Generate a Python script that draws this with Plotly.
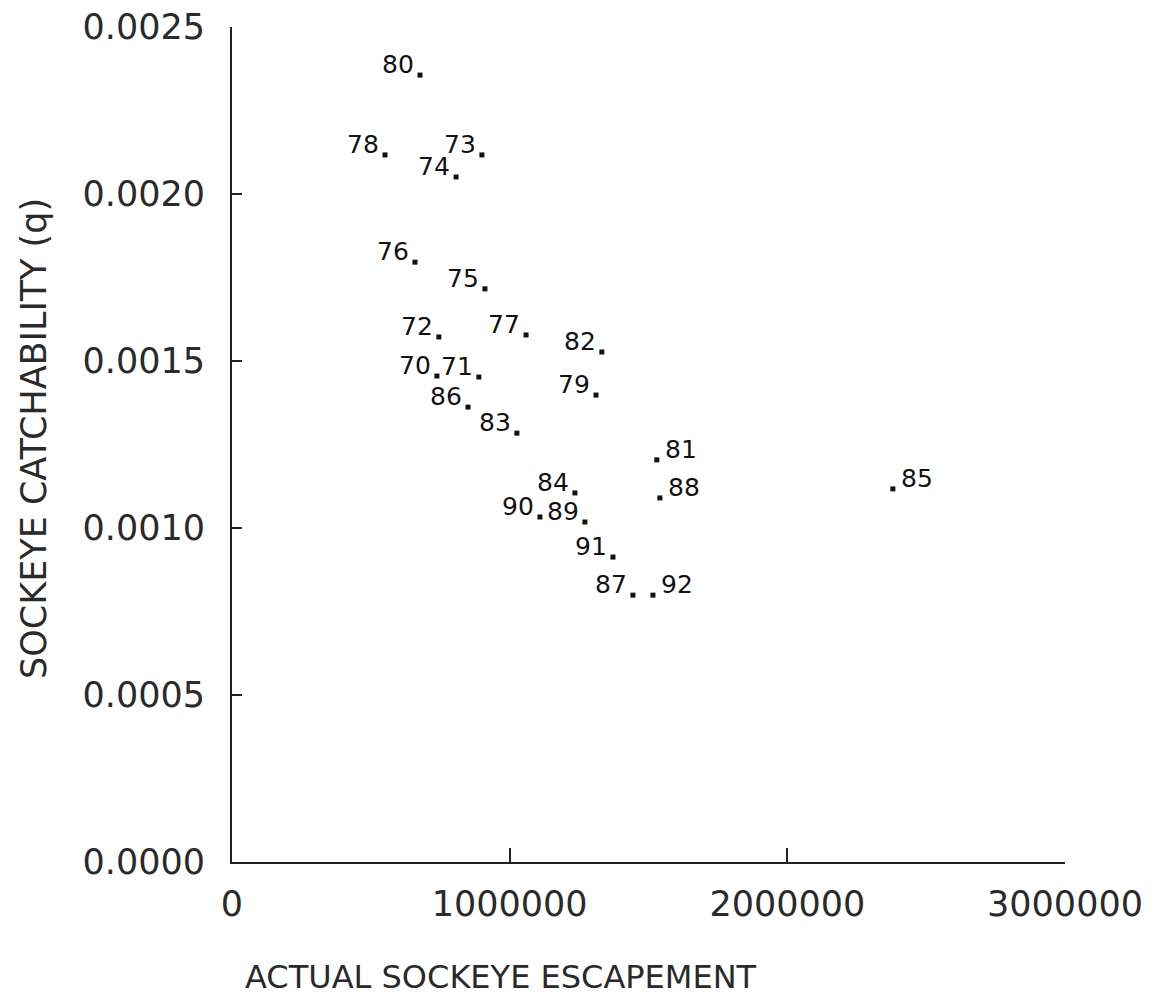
import plotly.graph_objects as go

years = ["80", "78", "73", "74", "76", "75", "72", "77", "82", "70", "71", "79",
         "86", "83", "81", "84", "88", "89", "90", "91", "87", "92", "85"]
escapement = [677000, 551000, 900000, 807000, 659000, 911000, 745000, 1059000,
              1332000, 738000, 889000, 1311000, 850000, 1026000, 1530000, 1235000,
              1541000, 1271000, 1109000, 1372000, 1444000, 1516000, 2380000]
catchability = [0.002356, 0.002117, 0.002117, 0.002051, 0.001796, 0.001716,
                0.001572, 0.001578, 0.001527, 0.001455, 0.001452, 0.001398,
                0.001362, 0.001284, 0.001204, 0.001105, 0.001090, 0.001018,
                0.001033, 0.000913, 0.000799, 0.000799, 0.001117]
label_side = ["left", "left", "left", "left", "left", "left", "left", "left",
              "left", "left", "left", "left", "left", "left", "right", "left",
              "right", "left", "left", "left", "left", "right", "right"]

x_ticks = [0, 1000000, 2000000, 3000000]
x_tick_text = ["0", "1000000", "2000000", "3000000"]
y_ticks = [0.0, 0.0005, 0.0010, 0.0015, 0.0020, 0.0025]
y_tick_text = ["0.0000", "0.0005", "0.0010", "0.0015", "0.0020", "0.0025"]

x_title = "ACTUAL SOCKEYE ESCAPEMENT"
y_title = "SOCKEYE CATCHABILITY (q)"

FONT = "DejaVu Sans"
INK = "#2a2a2a"

# plot area in screen pixels (page has an 8px body margin)
PL, PT, PW, PH = 232, 27, 833, 835

annotations = []
for yr, xv, yv, side in zip(years, escapement, catchability, label_side):
    annotations.append(dict(
        x=xv, y=yv, text=yr, showarrow=False,
        xanchor="right" if side == "left" else "left",
        yanchor="bottom",
        xshift=-4 if side == "left" else 6,
        yshift=-6,
        font=dict(family=FONT, size=25, color="#111"),
    ))

annotations.append(dict(
    x=(501 - PL) / PW, y=-(977 - (PT + PH)) / PH, xref="paper", yref="paper",
    text=x_title, showarrow=False, xanchor="center", yanchor="middle",
    font=dict(family=FONT, size=32, color=INK),
))
annotations.append(dict(
    x=-(PL - 34) / PW, y=((PT + PH) - 439) / PH, xref="paper", yref="paper",
    text=y_title, showarrow=False, textangle=-90,
    xanchor="center", yanchor="middle",
    font=dict(family=FONT, size=35, color=INK),
))

fig = go.Figure()
fig.add_trace(go.Scatter(
    x=escapement, y=catchability, mode="markers",
    marker=dict(size=5, color="#111", symbol="square"),
    hoverinfo="skip", showlegend=False, cliponaxis=False,
))

fig.update_layout(
    width=1172, height=1001,
    margin=dict(l=PL - 8, r=1172 - (PL - 8) - PW, t=PT - 8, b=1001 - (PT - 8) - PH),
    paper_bgcolor="white", plot_bgcolor="white",
    font=dict(family=FONT, size=30, color=INK),
    annotations=annotations,
)

fig.update_xaxes(
    range=[0, 3000000], tickvals=x_ticks, ticktext=x_tick_text,
    showline=True, linecolor="#222", linewidth=2, mirror=False,
    ticks="inside", ticklen=14, tickwidth=2, tickcolor="#222",
    showgrid=False, zeroline=False, ticklabelstandoff=10, automargin=False,
    ticklabeloverflow="allow",
    tickfont=dict(family=FONT, size=35, color=INK),
)
fig.update_yaxes(
    range=[0, 0.0025], tickvals=y_ticks, ticktext=y_tick_text,
    showline=True, linecolor="#222", linewidth=2, mirror=False,
    ticks="inside", ticklen=10, tickwidth=2, tickcolor="#222",
    showgrid=False, zeroline=False, ticklabelstandoff=18, automargin=False,
    ticklabeloverflow="allow",
    tickfont=dict(family=FONT, size=35, color=INK),
)

fig.write_html("out.html")
